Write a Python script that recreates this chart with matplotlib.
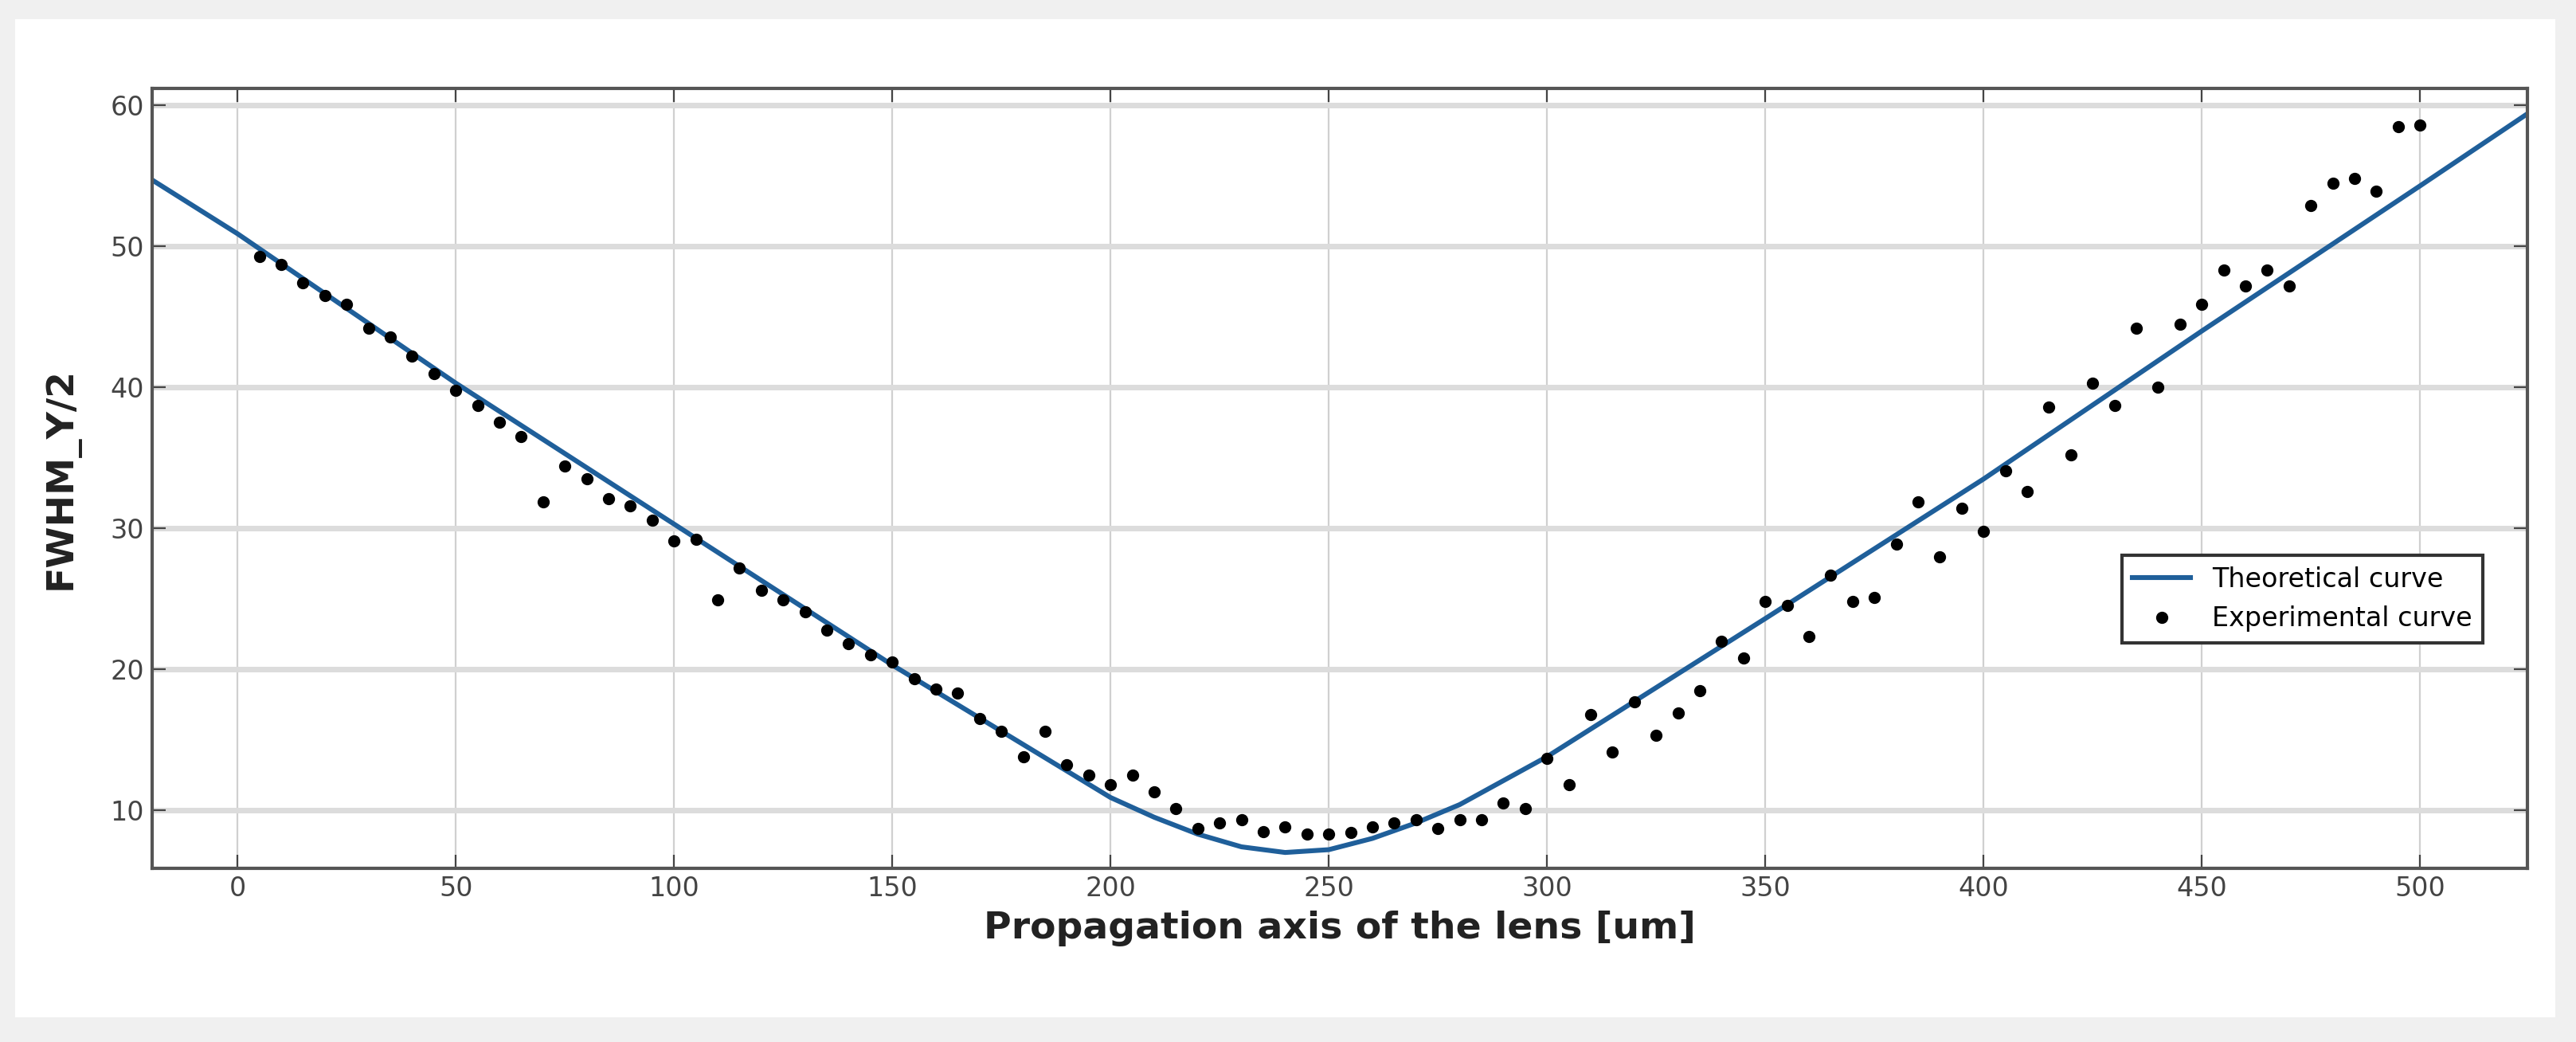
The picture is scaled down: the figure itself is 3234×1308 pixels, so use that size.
import numpy as np
import matplotlib.pyplot as plt

# experimental points, every 5 um
exp_x = np.arange(5, 505, 5)
exp_y = [49.3, 48.7, 47.4, 46.5, 45.9, 44.2, 43.6, 42.2, 41.0, 39.8,
         38.7, 37.5, 36.5, 31.9, 34.4, 33.5, 32.1, 31.6, 30.6, 29.1,
         29.2, 24.9, 27.2, 25.6, 24.9, 24.1, 22.8, 21.8, 21.0, 20.5,
         19.3, 18.6, 18.3, 16.5, 15.6, 13.8, 15.6, 13.2, 12.5, 11.8,
         12.5, 11.3, 10.1, 8.7, 9.1, 9.3, 8.5, 8.8, 8.3, 8.3,
         8.4, 8.8, 9.1, 9.3, 8.7, 9.3, 9.3, 10.5, 10.1, 13.7,
         11.8, 16.8, 14.1, 17.7, 15.3, 16.9, 18.5, 22.0, 20.8, 24.8,
         24.5, 22.3, 26.7, 24.8, 25.1, 28.9, 31.9, 28.0, 31.4, 29.8,
         34.1, 32.6, 38.6, 35.2, 40.3, 38.7, 44.2, 40.0, 44.5, 45.9,
         48.3, 47.2, 48.3, 47.2, 52.9, 54.5, 54.8, 53.9, 58.5, 58.6]

# theoretical curve
th_x = [-20, 0, 50, 100, 150, 200, 210, 220, 230, 240, 250, 260, 270, 280, 300, 350, 400, 450, 500, 525]
th_y = [54.8, 50.9, 40.3, 30.3, 20.3, 10.9, 9.5, 8.3, 7.4, 7.0, 7.2, 8.0, 9.1, 10.4, 13.8, 23.6, 33.5, 44.0, 54.3, 59.5]

fig = plt.figure(figsize=(16.17, 6.54), dpi=200)
fig.patch.set_facecolor('#f0f0f0')
bg = fig.add_axes([0.006, 0.024, 0.986, 0.958], zorder=-1)
bg.set_facecolor('white')
bg.set_xticks([])
bg.set_yticks([])
for s in bg.spines.values():
    s.set_visible(False)

ax = fig.add_axes([0.059, 0.167, 0.922, 0.748])
ax.plot(th_x, th_y, color='#1f5f9a', lw=2.2, label='Theoretical curve')
ax.plot(exp_x, exp_y, 'o', color='black', ms=4.5, label='Experimental curve')

ax.set_xlim(-19.6, 524.5)
ax.set_ylim(5.9, 61.2)
ax.set_xticks(range(0, 501, 50))
ax.set_yticks(range(10, 61, 10))
ax.grid(True, axis='x', color='#d0d0d0', lw=0.8)
ax.grid(True, axis='y', color='#dcdcdc', lw=2.5)
ax.set_axisbelow(True)
for s in ax.spines.values():
    s.set_color('#555555')
    s.set_linewidth(1.5)
ax.tick_params(colors='#444444', labelsize=12, length=6, direction='in', top=True, right=True)
ax.set_xlabel('Propagation axis of the lens [um]', fontsize=17, fontweight='bold', color='#222222')
ax.set_ylabel('FWHM_Y/2', fontsize=17, fontweight='bold', color='#222222', labelpad=14)

leg = ax.legend(loc='center right', bbox_to_anchor=(0.987, 0.345), fontsize=12,
                fancybox=False, edgecolor='#333333', framealpha=1, handlelength=2.2)
leg.get_frame().set_linewidth(1.5)

fig.savefig('out.png', dpi=200, facecolor=fig.get_facecolor())
